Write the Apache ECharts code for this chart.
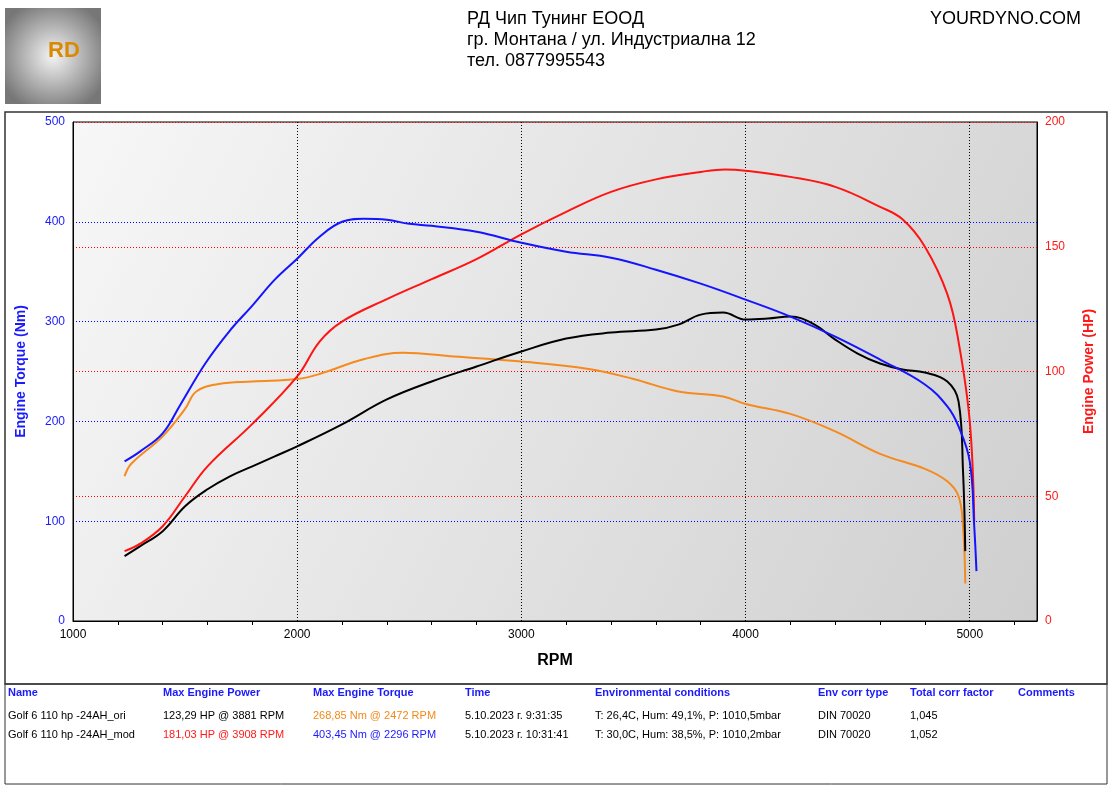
<!DOCTYPE html>
<html><head><meta charset="utf-8">
<script src="https://cdn.jsdelivr.net/npm/echarts@6/dist/echarts.min.js"></script>
<style>html,body{margin:0;padding:0;background:#fff}#c{width:1112px;height:788px}</style>
</head><body><div id="c"></div>
<script>
const rpmModT=[1230,1300,1400,1477,1590,1700,1800,1900,2000,2100,2200,2296,2400,2500,2600,2800,3000,3200,3400,3600,3800,4000,4200,4400,4600,4800,4900,4950,5000,5020,5030];
const modTorque=[160,170,188,216,258,291,316,342,363,385,400,403,402,398,396,390,379,370,364,352,338,322,305,285,262,237,215,195,160,95,50];
const rpmOriT=[1230,1300,1400,1500,1600,1700,1800,1900,2000,2200,2400,2600,2800,3000,3200,3400,3600,3700,3800,3900,4000,4100,4200,4300,4400,4500,4600,4700,4800,4900,4950,4970,4980];
const oriTorque=[65,75,90,115,132,145,155,165,175,197,222,240,255,270,283,289,292,297,307,309,302,303,305,298,282,268,258,252,249,240,220,150,70];
const rpmOriP=[1230,1260,1400,1500,1550,1650,1800,2000,2100,2300,2472,2700,3000,3300,3500,3700,3900,4000,4200,4400,4600,4800,4900,4950,4970,4980];
const oriPower=[58,63,74,85,92,95,96,97,99,105,107.5,106,104,101,97,92,90,87,83,76,67,61,56,50,38,15];
const rpmModP=[1230,1300,1400,1500,1600,1800,2000,2100,2200,2400,2600,2800,3000,3200,3400,3600,3800,3908,4000,4200,4400,4600,4700,4800,4900,4950,5000,5020];
const modPower=[28,31,38,50,62,79,98,112,120,129,137,145,155,164,172,177,180,181,180.5,178,174,166,161,150,131,112,80,40];
const xTicks=[1000,2000,3000,4000,5000];
const zip=(a,b)=>a.map((v,i)=>[v,b[i]]);
const ch=echarts.init(document.getElementById('c'));
const F='Liberation Sans, Arial, sans-serif';
const hdr=[["Name",8],["Max Engine Power",163],["Max Engine Torque",313],["Time",465],["Environmental conditions",595],["Env corr type",818],["Total corr factor",910],["Comments",1018]];
const row1=[["Golf 6 110 hp -24AH_ori",8,'#000'],["123,29 HP @ 3881 RPM",163,'#000'],["268,85 Nm @ 2472 RPM",313,'#f28a1a'],["5.10.2023 г. 9:31:35",465,'#000'],["T: 26,4C, Hum: 49,1%, P: 1010,5mbar",595,'#000'],["DIN 70020",818,'#000'],["1,045",910,'#000']];
const row2=[["Golf 6 110 hp -24AH_mod",8,'#000'],["181,03 HP @ 3908 RPM",163,'#ff1a1a'],["403,45 Nm @ 2296 RPM",313,'#1a1aff'],["5.10.2023 г. 10:31:41",465,'#000'],["T: 30,0C, Hum: 38,5%, P: 1010,2mbar",595,'#000'],["DIN 70020",818,'#000'],["1,052",910,'#000']];
const g=[
 {type:'rect',shape:{x:5,y:8,width:96,height:96},style:{fill:new echarts.graphic.RadialGradient(0.5,0.5,0.6,[{offset:0,color:'#f4f4f4'},{offset:1,color:'#777'}])}},
 {type:'text',x:48,y:40,style:{text:'RD',font:'bold 22px '+F,fill:'#d98a00'}},
 {type:'text',x:467,y:10,style:{text:'РД Чип Тунинг ЕООД',font:'18px '+F,fill:'#000'}},
 {type:'text',x:467,y:31,style:{text:'гр. Монтана / ул. Индустриална 12',font:'18px '+F,fill:'#000'}},
 {type:'text',x:467,y:52,style:{text:'тел. 0877995543',font:'18px '+F,fill:'#000'}},
 {type:'text',x:930,y:10,style:{text:'YOURDYNO.COM',font:'18px '+F,fill:'#000'}},
 {type:'rect',shape:{x:5,y:112,width:1102,height:572},style:{fill:'none',stroke:'#333',lineWidth:1.5}},
 {type:'rect',shape:{x:5,y:684,width:1102,height:100},style:{fill:'none',stroke:'#333',lineWidth:1}},
];
hdr.forEach(h=>g.push({type:'text',x:h[1],y:687,style:{text:h[0],font:'bold 11px '+F,fill:'#1a1aff'}}));
row1.forEach(h=>g.push({type:'text',x:h[1],y:710,style:{text:h[0],font:'11px '+F,fill:h[2]}}));
row2.forEach(h=>g.push({type:'text',x:h[1],y:729,style:{text:h[0],font:'11px '+F,fill:h[2]}}));
const ln=(d,c,yi)=>({type:'line',data:d,yAxisIndex:yi,smooth:0.4,showSymbol:false,lineStyle:{color:c,width:2},itemStyle:{color:c}});
ch.setOption({animation:false,
 graphic:g,
 grid:{left:73,right:75,top:122,bottom:167,show:true,backgroundColor:new echarts.graphic.LinearGradient(0,0,1,1,[{offset:0,color:'#f7f7f7'},{offset:1,color:'#cfcfcf'}]),borderColor:'#000',borderWidth:1},
 xAxis:{type:'value',min:1000,max:5300,interval:1000,name:'RPM',nameLocation:'middle',nameGap:32,nameTextStyle:{fontFamily:F,fontWeight:'bold',fontSize:16,color:'#000'},
  axisLabel:{fontFamily:F,fontSize:12,color:'#000',formatter:v=>xTicks.includes(v)?String(v):''},axisLine:{lineStyle:{color:'#000'}},axisTick:{show:false},
  minorTick:{show:true,splitNumber:5,length:4,lineStyle:{color:'#000'}},
  splitLine:{lineStyle:{color:'#000',type:[1,2]}}},
 yAxis:[{type:'value',min:0,max:500,interval:100,name:'Engine Torque (Nm)',nameLocation:'middle',nameGap:45,nameTextStyle:{fontFamily:F,fontWeight:'bold',fontSize:14,color:'#1a1aff'},
   axisLabel:{fontFamily:F,fontSize:12,color:'#1a1aff'},axisLine:{show:true,lineStyle:{color:'#000'}},axisTick:{show:false},splitLine:{lineStyle:{color:'#0000ff',width:1.2,type:[1,2]}}},
  {type:'value',min:0,max:200,interval:50,name:'Engine Power (HP)',nameLocation:'middle',nameGap:45,nameTextStyle:{fontFamily:F,fontWeight:'bold',fontSize:14,color:'#ff1a1a'},
   axisLabel:{fontFamily:F,fontSize:12,color:'#ff1a1a'},axisLine:{show:true,lineStyle:{color:'#000'}},axisTick:{show:false},splitLine:{lineStyle:{color:'#ff0000',width:1.2,type:[1,2]}}}],
 series:[ln(zip(rpmOriP,oriPower),'#f58a1f',1),ln(zip(rpmOriT,oriTorque),'#000',0),ln(zip(rpmModP,modPower),'#ff1414',1),ln(zip(rpmModT,modTorque),'#1414ff',0)]
});
</script></body></html>
